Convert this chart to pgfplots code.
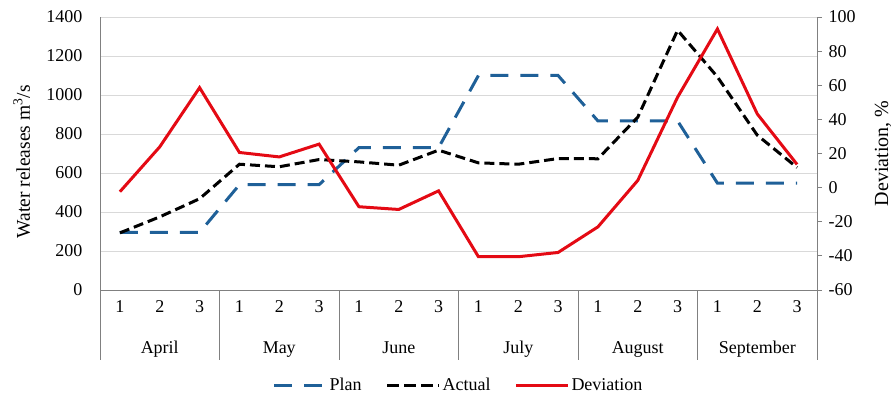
\documentclass[border=0pt]{standalone}
\usepackage{pgfplots}
\pgfplotsset{compat=1.18}
\usepackage{fontspec}
\setmainfont{Liberation Serif}
\definecolor{planblue}{RGB}{31,96,152}
\definecolor{devred}{RGB}{228,10,20}
\definecolor{gridgray}{RGB}{217,217,217}
\definecolor{axgray}{RGB}{128,128,128}
\tikzset{
  planstyle/.style={planblue, line width=3pt, dash pattern=on 18pt off 12pt},
  actualstyle/.style={black, line width=3pt, dash pattern=on 10pt off 5pt},
  devstyle/.style={devred, line width=3pt},
  monthlabel/.style={font=\fontsize{18}{21}\selectfont, anchor=base},
}
\begin{document}
\begin{tikzpicture}
\path[use as bounding box] (0,0) rectangle (892pt,397pt);
\begin{axis}[
  at={(100pt,107pt)}, anchor=south west,
  scale only axis, width=717pt, height=273pt,
  xmin=-0.5, xmax=17.5, ymin=0, ymax=1400,
  ytick={0,200,...,1400},
  xtick={0,...,17},
  xticklabels={1,2,3,1,2,3,1,2,3,1,2,3,1,2,3,1,2,3},
  major tick length=0pt,
  ymajorgrids, grid style={gridgray, line width=0.8pt},
  axis x line*=bottom, axis y line*=left,
  axis line style={axgray, line width=0.8pt},
  ticklabel style={font=\fontsize{18}{21}\selectfont},
  xticklabel style={yshift=-7pt},
  yticklabel style={xshift=-14pt},
  /pgf/number format/assume math mode=true,
  /pgf/number format/1000 sep={},
  ylabel={Water releases m\textsuperscript{3}/s},
  ylabel style={at={(axis description cs:-0.109,0.47)}, anchor=center, font=\fontsize{19.5}{22}\selectfont},
  clip=false,
]
\addplot[planstyle] coordinates {
(0,295) (1,295) (2,295) (3,540) (4,540) (5,540) (6,730) (7,730) (8,730)
(9,1100) (10,1100) (11,1100) (12,867) (13,867) (14,867) (15,548) (16,548) (17,548)};
\addplot[actualstyle] coordinates {
(0,293) (1,375) (2,468) (3,645) (4,632) (5,669) (6,657) (7,640) (8,717)
(9,652) (10,645) (11,674) (12,673) (13,886) (14,1332) (15,1093) (16,794) (17,628)};
\pgfplotsinvokeforeach{-0.5,2.5,5.5,8.5,11.5,14.5,17.5}{
  \draw[axgray, line width=0.8pt] (axis cs:#1,0) -- ([yshift=-70pt]axis cs:#1,0);
}
\node[monthlabel] at ([yshift=-63pt]axis cs:1,0) {April};
\node[monthlabel] at ([yshift=-63pt]axis cs:4,0) {May};
\node[monthlabel] at ([yshift=-63pt]axis cs:7,0) {June};
\node[monthlabel] at ([yshift=-63pt]axis cs:10,0) {July};
\node[monthlabel] at ([yshift=-63pt]axis cs:13,0) {August};
\node[monthlabel] at ([yshift=-63pt]axis cs:16,0) {September};
\end{axis}
\begin{axis}[
  at={(100pt,107pt)}, anchor=south west,
  scale only axis, width=717pt, height=273pt,
  xmin=-0.5, xmax=17.5, ymin=-60, ymax=100,
  ytick={-60,-40,...,100},
  axis x line=none, axis y line*=right,
  axis line style={axgray, line width=0.8pt},
  tick style={axgray, line width=0.8pt},
  major tick length=5pt, tick align=outside,
  ticklabel style={font=\fontsize{18}{21}\selectfont},
  yticklabel style={xshift=3pt},
  /pgf/number format/assume math mode=true,
  ylabel={Deviation, \%},
  ylabel style={at={(axis description cs:1.092,0.5)}, anchor=center, font=\fontsize{20}{23}\selectfont},
  clip=false,
  legend columns=3,
  legend style={at={(axis description cs:0.5,-0.348)}, anchor=center, draw=none, fill=none,
    font=\fontsize{18}{21}\selectfont,
    /tikz/every even column/.append style={column sep=22pt}},
  legend image code/.code={\draw[#1] (0pt,0pt) -- (52pt,0pt);},
]
\addlegendimage{planstyle}
\addlegendentry{Plan}
\addlegendimage{actualstyle, dash pattern=on 12pt off 5pt}
\addlegendentry{Actual}
\addplot[devstyle] coordinates {
(0,-2.4) (1,23.9) (2,58.6) (3,20.6) (4,18.0) (5,25.5) (6,-11.2) (7,-12.8) (8,-1.9)
(9,-40.5) (10,-40.5) (11,-38) (12,-23) (13,4.2) (14,53) (15,93) (16,43.2) (17,13.6)};
\addlegendentry{Deviation}
\end{axis}
\end{tikzpicture}
\end{document}
